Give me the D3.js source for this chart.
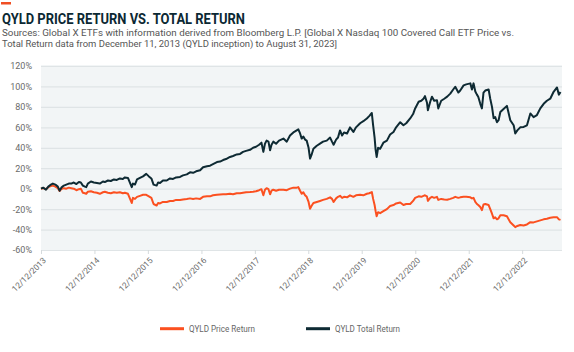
<!DOCTYPE html>
<html>
<head>
<meta charset="utf-8">
<script src="https://cdn.jsdelivr.net/npm/d3@7"></script>
<style>
  body { margin: 0; background: #fff; }
  text { font-family: Roboto, "Open Sans", sans-serif; }
</style>
</head>
<body>
<div id="chart"></div>
<script>
// Data (returns in %)
const dates = [
  "2013-12-12","2013-12-27",
  "2014-01-15","2014-01-31","2014-02-18","2014-03-03","2014-03-20","2014-04-06","2014-04-18","2014-04-30","2014-05-17","2014-06-03","2014-06-20","2014-07-07","2014-07-24","2014-08-11","2014-08-28","2014-09-10","2014-09-24","2014-10-08","2014-10-17","2014-10-28","2014-11-18","2014-12-08","2014-12-29",
  "2015-01-18","2015-02-08","2015-02-21","2015-03-14","2015-04-03","2015-04-24","2015-05-14","2015-06-04","2015-06-24","2015-07-08","2015-07-29","2015-08-24","2015-09-01","2015-09-15","2015-09-29","2015-10-19","2015-11-09","2015-12-01","2015-12-19",
  "2016-01-05","2016-01-20","2016-02-10","2016-02-20","2016-03-04","2016-03-24","2016-04-19","2016-05-11","2016-06-01","2016-06-22","2016-07-19","2016-08-08","2016-09-03","2016-09-25","2016-10-16","2016-11-06","2016-12-03","2016-12-23",
  "2017-01-19","2017-02-09","2017-03-01","2017-03-28","2017-04-18","2017-05-09","2017-05-29","2017-06-25","2017-07-16","2017-08-10","2017-09-02","2017-09-22","2017-10-13","2017-11-09","2017-11-30","2017-12-20",
  "2018-01-10","2018-01-26","2018-02-08","2018-02-19","2018-03-02","2018-03-15","2018-03-26","2018-04-05","2018-04-17","2018-05-06","2018-05-26","2018-06-25","2018-07-18","2018-08-09","2018-09-01","2018-09-24","2018-10-05","2018-10-17","2018-10-28","2018-11-08","2018-11-20","2018-12-01","2018-12-14","2018-12-24",
  "2019-01-03","2019-01-16","2019-02-08","2019-03-02","2019-03-23","2019-04-17","2019-05-10","2019-05-23","2019-06-03","2019-06-20","2019-07-03","2019-07-17","2019-07-31","2019-08-13","2019-09-03","2019-09-23","2019-10-16","2019-11-03","2019-12-01","2019-12-23",
  "2020-01-16","2020-02-01","2020-02-19","2020-02-28","2020-03-09","2020-03-16","2020-03-23","2020-04-02","2020-04-16","2020-05-08","2020-06-01","2020-06-23","2020-07-16","2020-08-03","2020-08-31","2020-09-22","2020-10-11","2020-11-07","2020-11-27","2020-12-11",
  "2021-01-04","2021-01-22","2021-02-06","2021-02-16","2021-03-02","2021-03-08","2021-03-24","2021-04-05","2021-04-20","2021-05-09","2021-05-18","2021-06-07","2021-06-28","2021-07-18","2021-08-08","2021-08-28","2021-09-11","2021-10-02","2021-10-15","2021-11-07","2021-11-25","2021-12-23",
  "2022-01-03","2022-01-14","2022-01-26","2022-02-06","2022-02-15","2022-03-01","2022-03-12","2022-03-23","2022-04-04","2022-04-27","2022-05-08","2022-05-20","2022-05-31","2022-06-11","2022-06-23","2022-07-04","2022-07-16","2022-08-07","2022-08-30","2022-09-22","2022-10-15","2022-10-26","2022-11-09","2022-11-29","2022-12-22",
  "2023-01-14","2023-02-06","2023-02-28","2023-03-23","2023-04-15","2023-05-08","2023-05-30","2023-06-22","2023-07-15","2023-08-07","2023-08-20","2023-08-31"
]

const totalReturn = [
  0, 1,
  -1, 2, 4, 5, 4, 2, -2, 1, 3, 4, 5, 5, 6, 4.5, 6.5, 6, 3, 2, 1.5, 5, 7, 6, 5.5,
  5, 7, 6.5, 8, 7.5, 9, 8.5, 10, 9.5, 11, 10.5, 1.5, 5, 4, 9, 10.5, 12, 14.5, 12,
  10, 4, 3, 6, 5.5, 8, 8, 10, 9.5, 11, 11.5, 13, 14, 16, 15.5, 17, 18, 21,
  22, 22.5, 24, 26, 26.5, 28, 29, 31, 32, 33.5, 34, 36, 37, 38, 40, 41,
  43, 45, 36, 44, 47, 46, 37.5, 43, 46, 44, 47, 49, 46, 52, 55, 57, 58, 54, 49, 51, 48, 47, 40, 29.4,
  33, 39, 42, 44, 46, 47, 50, 46, 43, 48, 50, 57, 52, 55, 54, 60, 55.5, 60, 64, 66,
  68.7, 71, 74, 62, 50, 38, 31, 40, 39, 45, 47, 53, 55.5, 60, 65, 62, 64, 68.7, 73, 78.5,
  85, 86, 88, 90.5, 84, 76.8, 85, 90, 86, 86.6, 78.5, 86, 88, 90, 93, 97, 99.7, 94, 96, 101, 102, 103,
  97, 103, 95, 92, 90, 83, 78.5, 94, 96, 97, 88, 80, 69, 70, 65, 67, 75, 78, 81, 67, 62, 54, 57, 60, 60.4,
  62, 73.6, 70, 72, 78.5, 83, 86, 88, 94.8, 99, 92, 94.5
]

const priceReturn = [
  0, 0.5,
  -0.5, 1.5, 2.5, 3, 2, 0.5, -2.3, -0.5, 0.5, 0, 1, 0.5, 0, -1.5, -0.5, 0, -4, -4.5, -5, -3, -2.5, -3.5, -4,
  -5, -3.5, -3, -4, -4.5, -3.5, -4, -3.5, -4.5, -4, -5, -14, -9, -10, -8, -7, -6, -6, -7.5,
  -9, -15, -16.5, -14, -14.5, -13, -13, -12, -12, -11, -11, -10.5, -10, -9.5, -10, -9.5, -10, -8,
  -7.5, -7.5, -6.5, -6, -5.6, -5.5, -5.5, -5, -5.5, -4.5, -4.5, -4, -3.5, -3.3, -3, -2.5,
  -1.5, -0.5, -6.5, -1, 0.5, -0.5, -5.5, -2, -1, -2, -1, -1, -1.5, 0, 1, 1, 1.5, -2, -5, -3.5, -6.5, -8, -13, -19.6,
  -17, -14, -13, -12, -11, -10, -8.5, -10, -13, -9.5, -8, -7, -9, -8, -8.5, -6.5, -8, -6.5, -6, -6.5,
  -5, -4.5, -3.3, -10, -16, -22, -27, -23, -24, -22, -20, -17, -16, -14.5, -13.5, -16, -15, -15, -12, -9,
  -7.5, -8, -7, -6.5, -7.5, -12, -9, -8, -9, -8, -11, -10, -10.5, -10.8, -10, -9, -8, -9, -8.5, -8, -8, -8.5,
  -9.5, -9, -13, -15, -16, -18, -21, -15.4, -15, -16, -20, -24.5, -29, -28, -30, -29, -26, -26, -27, -32.8, -36, -37.6, -36.5, -35.5, -36,
  -35, -32.8, -33, -32, -31, -30, -29.5, -28.5, -28, -27.9, -30, -30.5
]

const tickDates = ["2013-12-12","2014-12-12","2015-12-12","2016-12-12","2017-12-12",
  "2018-12-12","2019-12-12","2020-12-12","2021-12-12","2022-12-12"]
const yTicks = [-60, -40, -20, 0, 20, 40, 60, 80, 100, 120]

const seriesNames = ["QYLD Price Return", "QYLD Total Return"]
const seriesColors = ["#fb5020", "#0e2a33"]

function draw() {
  const parse = d3.timeParse("%Y-%m-%d")
  const rows = dates.map((d, i) => ({
    date: parse(d),
    price: priceReturn[i],
    total: totalReturn[i]
  }))

  let dimensions = {
    width: 574,
    height: 352,
    left: 41,
    right: 562,
    top: 66,
    bottom: 250,
  }

  const svg = d3.select('#chart')
    .append('svg')
    .attr('width', dimensions.width)
    .attr('height', dimensions.height)

  // Header
  svg.append('rect')
    .attr('x', 1).attr('y', 2)
    .attr('width', 10).attr('height', 2.5)
    .attr('fill', '#f04e23')

  svg.append('text')
    .attr('x', 2).attr('y', 24)
    .attr('font-size', 15.5)
    .attr('font-weight', 700)
    .attr('fill', '#0b2833')
    .attr('textLength', 243)
    .attr('lengthAdjust', 'spacingAndGlyphs')
    .text('QYLD PRICE RETURN VS. TOTAL RETURN')

  const subtitle = [
    ['Sources: Global X ETFs with information derived from Bloomberg L.P. [Global X Nasdaq 100 Covered Call ETF Price vs.', 512, 36.3],
    ['Total Return data from December 11, 2013 (QYLD inception) to August 31, 2023]', 335, 47.2]
  ]
  svg.selectAll('.sub')
    .data(subtitle)
    .join('text')
    .attr('x', 2).attr('y', d => d[2])
    .attr('font-size', 9.6)
    .attr('fill', '#555')
    .attr('textLength', d => d[1])
    .attr('lengthAdjust', 'spacingAndGlyphs')
    .text(d => d[0])

  // Scales
  const xScale = d3.scaleTime()
    .domain([parse("2013-12-12"), parse("2023-08-31")])
    .range([dimensions.left, 560.5])

  const yScale = d3.scaleLinear()
    .domain([-60, 120])
    .range([dimensions.bottom, dimensions.top])

  // Plot background
  svg.append('rect')
    .attr('x', dimensions.left)
    .attr('y', dimensions.top - 1)
    .attr('width', dimensions.right - dimensions.left)
    .attr('height', dimensions.bottom - dimensions.top + 2)
    .attr('fill', '#f2f5f6')

  // Y grid + labels
  const yAxis = d3.axisLeft(yScale)
    .tickValues(yTicks)
    .tickSize(-(dimensions.right - dimensions.left))
    .tickPadding(9)
    .tickFormat(d => d + '%')

  const yAxisGroup = svg.append('g')
    .attr('transform', `translate(${dimensions.left}, 0)`)
    .call(yAxis)
  yAxisGroup.select('.domain').remove()
  yAxisGroup.selectAll('line').attr('stroke', '#dfe4e6').attr('stroke-width', 1.2)
  yAxisGroup.selectAll('text')
    .attr('font-size', 9)
    .attr('fill', '#6a6a6a')
    .attr('font-family', 'Roboto, sans-serif')

  // X axis
  const xAxis = d3.axisBottom(xScale)
    .tickValues(tickDates.map(parse))
    .tickSize(4)
    .tickFormat(d3.timeFormat('%m/%d/%Y'))

  const xAxisGroup = svg.append('g')
    .attr('transform', `translate(0, ${dimensions.bottom})`)
    .call(xAxis)
  xAxisGroup.select('.domain').remove()
  xAxisGroup.selectAll('line').attr('stroke', '#d5dadc')
  xAxisGroup.selectAll('text')
    .attr('font-size', 8.3)
    .attr('fill', '#6a6a6a')
    .attr('font-family', 'Roboto, sans-serif')
    .attr('text-anchor', 'end')
    .attr('y', 0)
    .attr('dy', '0.35em')
    .attr('transform', 'translate(3, 9) rotate(-45)')

  // Lines
  const line = key => d3.line()
    .x(d => xScale(d.date))
    .y(d => yScale(d[key]))

  svg.append('path')
    .datum(rows)
    .attr('fill', 'none')
    .attr('stroke', seriesColors[0])
    .attr('stroke-width', 2)
    .attr('stroke-linejoin', 'round')
    .attr('d', line('price'))

  svg.append('path')
    .datum(rows)
    .attr('fill', 'none')
    .attr('stroke', seriesColors[1])
    .attr('stroke-width', 2)
    .attr('stroke-linejoin', 'round')
    .attr('d', line('total'))

  // Legend
  const legend = [
    { x: 160, tw: 66 },
    { x: 306, tw: 65 }
  ]
  const lg = svg.selectAll('.legend')
    .data(legend)
    .join('g')
    .attr('transform', d => `translate(${d.x}, 328.7)`)
  lg.append('line')
    .attr('x1', 0).attr('x2', 24)
    .attr('stroke', (d, i) => seriesColors[i])
    .attr('stroke-width', 3)
  lg.append('text')
    .attr('x', 29).attr('y', 3.3)
    .attr('font-size', 9.5)
    .attr('fill', '#666')
    .attr('textLength', d => d.tw)
    .attr('lengthAdjust', 'spacingAndGlyphs')
    .text((d, i) => seriesNames[i])
}

draw()
</script>
</body>
</html>
